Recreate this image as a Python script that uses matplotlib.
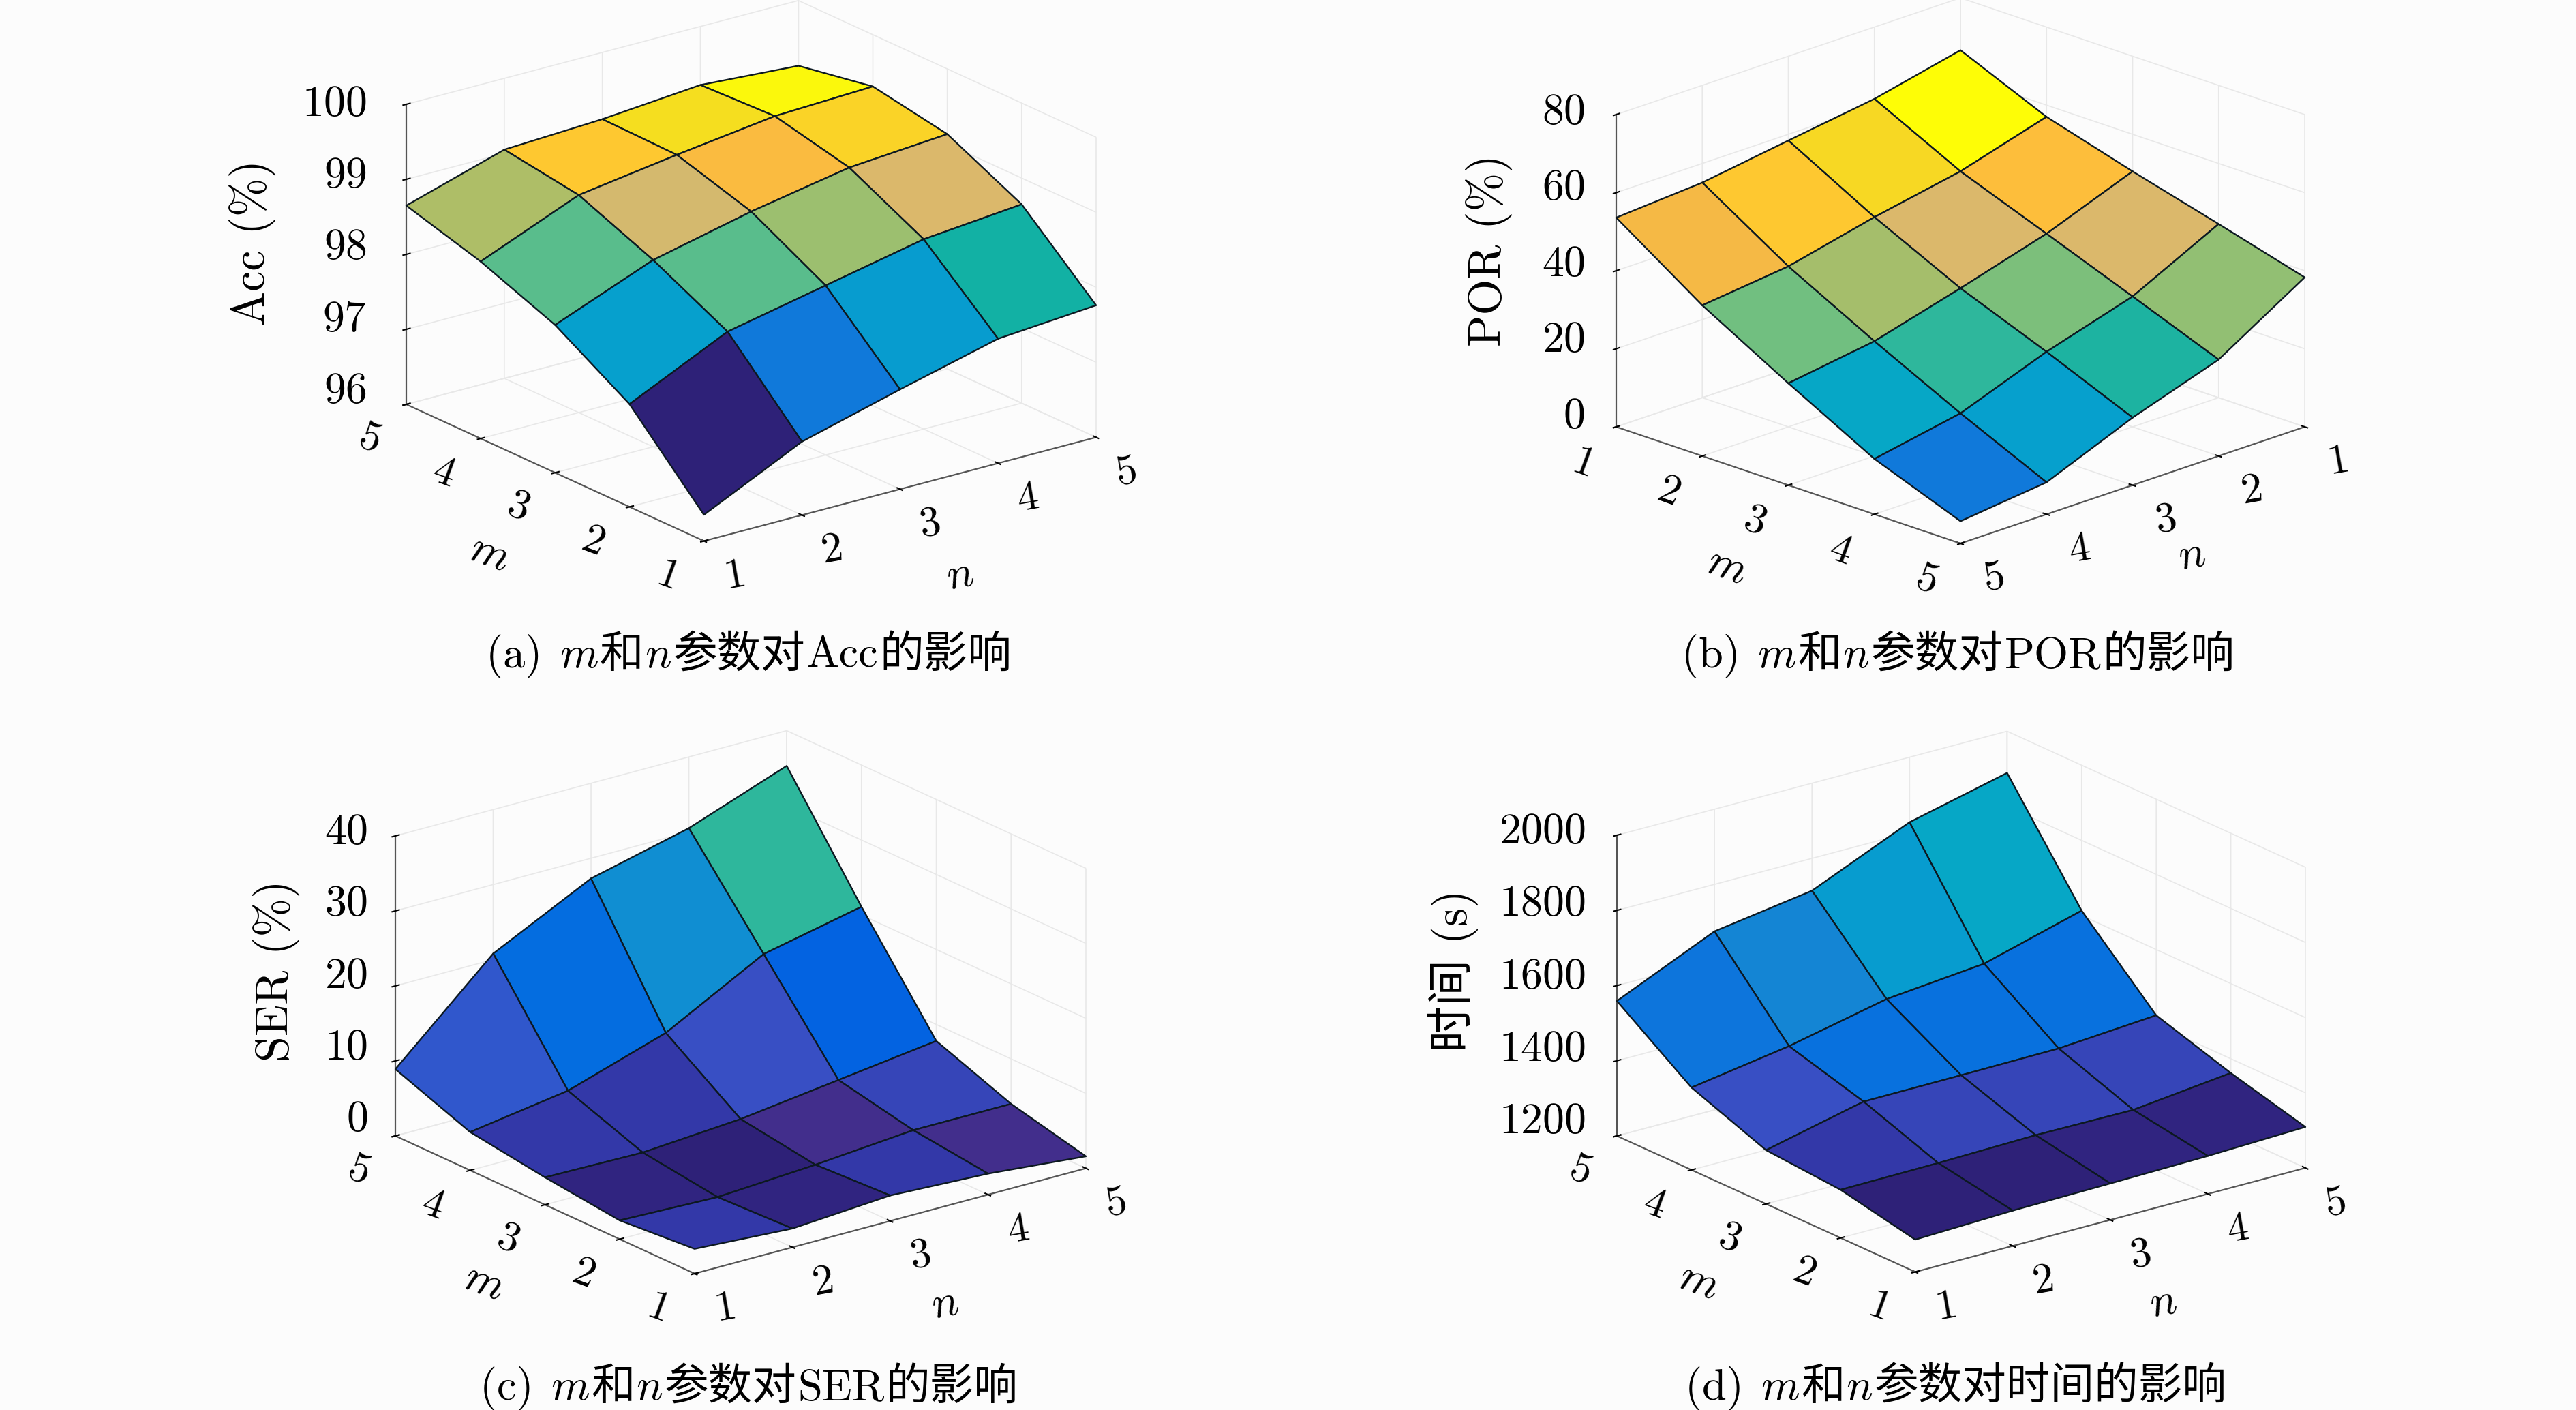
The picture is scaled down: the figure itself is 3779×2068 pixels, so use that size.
import numpy as np
import matplotlib
matplotlib.use('Agg')
import matplotlib.pyplot as plt
from matplotlib.colors import ListedColormap, Normalize
from matplotlib.transforms import Affine2D
from mpl_toolkits.mplot3d import proj3d

plt.rcParams['font.family'] = ['cmr10', 'Noto Sans CJK SC']
plt.rcParams['axes.unicode_minus'] = False
plt.rcParams['axes.formatter.use_mathtext'] = True

W, H = 3780, 2068
BG = '#fcfcfc'

m_vals = [1, 2, 3, 4, 5]
n_vals = [1, 2, 3, 4, 5]

# rows: m = 1..5, columns: n = 1..5
acc = [[96.35, 96.98, 97.33, 97.66, 97.76],
       [97.37, 97.99, 98.26, 98.53, 98.65],
       [97.97, 98.49, 98.79, 99.03, 99.13],
       [98.36, 98.90, 99.09, 99.26, 99.31],
       [98.65, 99.05, 99.11, 99.22, 99.13]]
por = [[66.6, 61.6, 58.4, 55.1, 53.6],
       [57.0, 50.5, 46.25, 41.1, 38.6],
       [50.5, 42.0, 35.5, 29.4, 26.1],
       [44.5, 33.4, 26.7, 18.4, 14.2],
       [38.3, 24.7, 17.3, 8.2, 5.7]]
ser = [[3.3, 2.5, 3.4, 2.8, 1.6],
       [2.5, 2.1, 2.9, 4.0, 4.0],
       [3.65, 3.45, 4.4, 6.1, 7.8],
       [5.1, 7.1, 11.3, 18.3, 21.1],
       [8.9, 20.8, 27.3, 30.5, 35.3]]
time_s = [[1286, 1294, 1297, 1301, 1309],
          [1328, 1330, 1335, 1333, 1362],
          [1343, 1403, 1404, 1406, 1425],
          [1419, 1460, 1516, 1541, 1613],
          [1559, 1675, 1714, 1827, 1889]]

parula = ListedColormap([
 (.18,.13,.47),(.19,.14,.50),(.26,.18,.55),(.20,.22,.66),
 (.21,.27,.72),(.22,.31,.77),(.19,.34,.80),(.0591,.3598,.8683),
 (.0117,.3875,.8820),(.0060,.4086,.8828),(.0165,.4266,.8786),(.0329,.4430,.8720),
 (.0498,.4586,.8641),(.0629,.4737,.8554),(.0723,.4887,.8467),(.0779,.5040,.8384),
 (.0793,.5200,.8312),(.0749,.5375,.8263),(.0641,.5570,.8240),(.0488,.5772,.8228),
 (.0343,.5966,.8199),(.0265,.6137,.8135),(.0239,.6287,.8038),(.0231,.6418,.7913),
 (.0228,.6535,.7768),(.0267,.6642,.7607),(.0384,.6743,.6800),(.0500,.6838,.6600),
 (.0700,.6928,.6450),(.1133,.7015,.6300),(.1453,.7098,.6200),(.1801,.7177,.6100),
 (.2178,.7250,.6000),(.2586,.7317,.5854),(.3022,.7376,.5712),(.3482,.7424,.5473),
 (.3953,.7459,.5244),(.4420,.7481,.5033),(.4871,.7491,.4840),(.5300,.7491,.4661),
 (.5709,.7485,.4494),(.6099,.7473,.4337),(.6473,.7456,.4188),(.6834,.7435,.4044),
 (.7300,.7350,.4100),(.7800,.7300,.4200),(.8300,.7250,.4300),(.8600,.7200,.4200),
 (.8900,.7200,.3900),(.9200,.7200,.3400),(.9400,.7200,.3000),(.9600,.7261,.2700),
 (.9800,.7314,.2500),(.9938,.7455,.2303),(.9990,.7653,.2064),(.9955,.7861,.1867),
 (.9880,.8066,.1694),(.9789,.8271,.1533),(.9697,.8481,.1375),(.9626,.8705,.1209),
 (.9589,.8949,.1032),(.9698,.9318,.0748),(.9861,.9714,.0455),(.9963,.9931,.0238)])

CJK = 'Noto Sans CJK SC'
panels = [
 dict(z=acc, zlim=(96, 100), zticks=[96, 97, 98, 99, 100], clim=None, az=-127.2, el=20.4,
      zlabel='Acc (%)', left=(596, 593), right=(1608, 643), top=153,
      znudge=(26, 43, 24), zlab_nudge=(-75, 10), mlab=(-19, -41), nlab=(29, -41),
      cap=[('(a) ', 'cmr10'), ('m', 'cmmi10'), ('和', CJK), ('n', 'cmmi10'), ('参数对', CJK),
           ('Acc', 'cmr10'), ('的影响', CJK)], capx=713, capy=979),
 dict(z=por, zlim=(0, 80), zticks=[0, 20, 40, 60, 80], clim=None, az=45, el=19.8,
      zlabel='POR (%)', left=(2371, 626), right=(3381, 626), top=168,
      znudge=(38, 43, 31), zlab_nudge=(-36, 30), mlab=(-22, -36), nlab=(19, -19),
      cap=[('(b) ', 'cmr10'), ('m', 'cmmi10'), ('和', CJK), ('n', 'cmmi10'), ('参数对', CJK),
           ('POR', 'cmr10'), ('的影响', CJK)], capx=2467, capy=979),
 dict(z=ser, zlim=(0, 40), zticks=[0, 10, 20, 30, 40], clim=None, az=-127.4, el=20.6,
      zlabel='SER (%)', left=(580, 1666), right=(1593, 1716), top=1226,
      znudge=(43, 48, 29), zlab_nudge=(-24, 15), mlab=(-12, -36), nlab=(22, -36),
      cap=[('(c) ', 'cmr10'), ('m', 'cmmi10'), ('和', CJK), ('n', 'cmmi10'), ('参数对', CJK),
           ('SER', 'cmr10'), ('的影响', CJK)], capx=704, capy=2053),
 dict(z=time_s, zlim=(1200, 2000), zticks=[1200, 1400, 1600, 1800, 2000], clim=(1286, 1960),
      az=-127.4, el=20.4,
      zlabel='时间 (s)', left=(2372, 1666), right=(3382, 1714), top=1225,
      znudge=(38, 45, 29), zlab_nudge=(-89, 15), mlab=(-22, -36), nlab=(19, -36),
      cap=[('(d) ', 'cmr10'), ('m', 'cmmi10'), ('和', CJK), ('n', 'cmmi10'), ('参数对时间的影响', CJK)],
      capx=2472, capy=2053),
]

fig = plt.figure(figsize=(W / 100, H / 100), dpi=100, facecolor=BG)
N, M = np.meshgrid(n_vals, m_vals)


def corners_px(ax, pts):
    ax.apply_aspect()
    P = ax.get_proj()
    out = []
    for p in pts:
        x, y, _ = proj3d.proj_transform(p[0], p[1], p[2], P)
        px = ax.transData.transform((x, y))
        out.append((px[0], H - px[1]))
    return np.array(out)


def style_ticks(ax, axis, dx, dy0, dy1, rot, ha=None):
    """Offset tick labels each time mplot3d refreshes them (dy0 first tick, dy1 last tick)."""
    orig = axis.get_major_ticks

    def wrapped(numticks=None):
        ticks = orig(numticks)
        n = max(len(ticks) - 1, 1)
        for i, t in enumerate(ticks):
            dy = dy0 + (dy1 - dy0) * i / n
            t.label1.set_transform(ax.transData + Affine2D().translate(dx, dy))
            t.label1.set_rotation(rot)
            if ha:
                t.label1.set_ha(ha)
        return ticks
    axis.get_major_ticks = wrapped


def nudge_label(ax, label, dx, dy):
    """mplot3d resets an axis label's transform at draw time, so shift what it reads."""
    label.get_transform = lambda: ax.transData + Affine2D().translate(dx, dy)


for p in panels:
    S = 1000
    ax = fig.add_axes([0, 0, S / W, S / H], projection='3d', proj_type='ortho',
                      facecolor='none')
    ax.set_xlim(1, 5)
    ax.set_ylim(1, 5)
    ax.set_zlim(*p['zlim'])
    ax.view_init(elev=p['el'], azim=p['az'])
    asp = 0.65
    ax.set_box_aspect((1, 1, asp))

    Z = np.array(p['z'], float)
    vmin, vmax = p['clim'] if p['clim'] else (Z.min(), Z.max())
    fc = parula(Normalize(vmin, vmax)(Z))
    ax.plot_surface(N, M, Z, facecolors=fc, edgecolor='#0c1820', linewidth=1.7,
                    rstride=1, cstride=1, shade=False, antialiased=True)

    # fit box on the canvas
    z0, z1 = p['zlim']
    if p['az'] > 0:
        lc, rc = (5, 1), (1, 5)
    else:
        lc, rc = (1, 5), (5, 1)
    pts = [(lc[0], lc[1], z0), (rc[0], rc[1], z0), (lc[0], lc[1], z1)]
    zpx = p['left'][1] - p['top']
    for _ in range(5):
        ax.set_position([0, 0, S / W, S / H])
        c = corners_px(ax, pts)
        S *= (p['right'][0] - p['left'][0]) / (c[1, 0] - c[0, 0])
        ax.set_position([0, 0, S / W, S / H])
        c = corners_px(ax, pts)
        asp *= zpx / (c[0, 1] - c[2, 1])
        ax.set_box_aspect((1, 1, asp))
    ax.set_position([0, 0, S / W, S / H])
    c = corners_px(ax, pts)
    S *= (p['right'][0] - p['left'][0]) / (c[1, 0] - c[0, 0])
    ax.set_position([0, 0, S / W, S / H])
    c = corners_px(ax, pts)
    dx = p['left'][0] - c[0, 0]
    dy = p['left'][1] - c[0, 1]
    ax.set_position([dx / W, -dy / H, S / W, S / H])

    ax.set_xticks(n_vals)
    ax.set_yticks(m_vals)
    ax.set_zticks(p['zticks'])
    ax.tick_params(axis='both', labelsize=45, colors='black', pad=18)
    ax.tick_params(axis='z', labelsize=46, pad=26)
    for axis in (ax.xaxis, ax.yaxis, ax.zaxis):
        axis.set_pane_color((1, 1, 1, 0))
        axis.pane.set_edgecolor('#e8e8e8')
        axis.pane.set_linewidth(1.2)
        axis.line.set_color('#555555')
        axis.line.set_linewidth(1.6)
        axis._axinfo['grid'].update(color='#e8e8e8', linewidth=1.2)
        axis._axinfo['tick'].update(inward_factor=0.1, outward_factor=0.12,
                                    color='#555555')
        axis._axinfo['tick']['linewidth'] = {True: 1.5, False: 1.0}
        axis.set_rotate_label(False)
    style_ticks(ax, ax.xaxis, 16, 18, 18, 10)
    style_ticks(ax, ax.yaxis, -18, 18, 18, -20)
    style_ticks(ax, ax.zaxis, p['znudge'][0], p['znudge'][1], p['znudge'][2], 0, 'right')
    ax.set_xlabel('n', family='cmmi10', fontsize=47, labelpad=34, rotation=10)
    ax.set_ylabel('m', family='cmmi10', fontsize=47, labelpad=34, rotation=-20)
    ax.set_zlabel(p['zlabel'], fontsize=49, rotation=90, labelpad=40)
    nudge_label(ax, ax.xaxis.label, *p['nlab'])
    nudge_label(ax, ax.yaxis.label, *p['mlab'])
    nudge_label(ax, ax.zaxis.label, *p['zlab_nudge'])

    # caption from pieces set on a common baseline
    r = fig.canvas.get_renderer()
    x = p['capx']
    for s, fam in p['cap']:
        t = fig.text(x / W, 1 - p['capy'] / H, s, family=fam, fontsize=46.5,
                     ha='left', va='baseline', color='black')
        w, _, _ = r.get_text_width_height_descent(s, t.get_fontproperties(), False)
        x += w + (4 if s.endswith(' ') else 2)

fig.savefig('out.png', dpi=100, facecolor=BG)
